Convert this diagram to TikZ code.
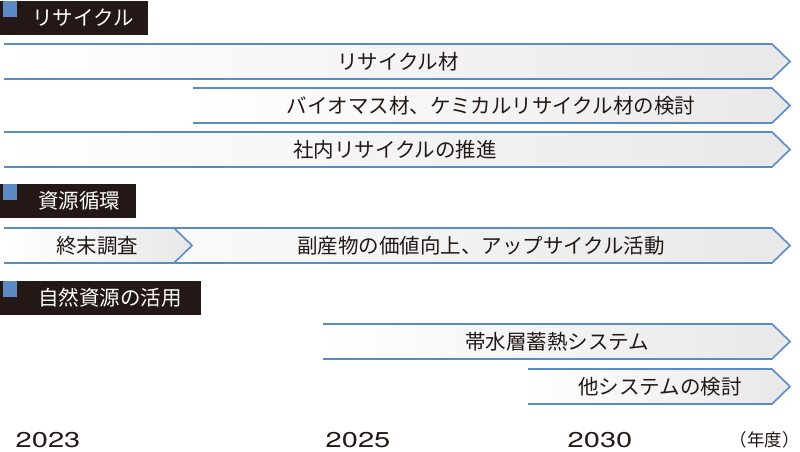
\documentclass[tikz,border=0pt]{standalone}
\usepackage{fontspec}
\setmainfont{Noto Sans CJK JP}
\newfontfamily\yearfont[FakeStretch=1.35]{TeX Gyre Heros}
\definecolor{lineblue}{HTML}{5B8BC6}
\definecolor{inkblack}{HTML}{231815}
\definecolor{barend}{HTML}{E8E8E8}

% bar: left end x, start of the point x, top edge y
\newcommand{\planbar}[3]{%
	\shade[left color=white, right color=barend] (#1,#3) -- (#2,#3) -- (#2+18,#3+17.5) -- (#2,#3+35) -- (#1,#3+35) -- cycle;
	\draw[lineblue, line width=1.6pt, line join=miter] (#1,#3) -- (#2,#3) -- (#2+18,#3+17.5) -- (#2,#3+35) -- (#1,#3+35);
}
% header: right edge x, top edge y
\newcommand{\planhead}[2]{%
	\fill[inkblack] (0,#2) rectangle (#1,#2+34);
	\fill[lineblue] (3,#2) rectangle (17,#2+16);
}

\begin{document}
\begin{tikzpicture}[x=1pt, y=-1pt]
\tikzstyle{bartext}=[inner sep=0pt, text=inkblack, font=\fontsize{20.5}{24}\selectfont]
\tikzstyle{headtext}=[inner sep=0pt, text=white, font=\fontsize{20.5}{24}\selectfont]
\tikzstyle{yeartext}=[inner sep=0pt, anchor=base, text=inkblack, font=\yearfont\fontsize{21.5}{24}\selectfont]
	\useasboundingbox (0,0) rectangle (800,452);

	% リサイクル
	\planhead{148}{1}
	\node[headtext] (recycle) at (83,18) {リサイクル};
	\planbar{4}{772}{44}
	\node[bartext] (material) at (398,61.5) {リサイクル材};
	\planbar{193}{772}{88}
	\node[bartext] (chemical) at (491,105.5) {バイオマス材、ケミカルリサイクル材の検討};
	\planbar{4}{772}{132}
	\node[bartext] (inhouse) at (395,149.5) {社内リサイクルの推進};

	% 資源循環
	\planhead{136}{184}
	\node[headtext] (circulation) at (79,201) {資源循環};
	\planbar{4}{772}{228}
	\planbar{4}{174}{228}
	\node[bartext] (survey) at (97,245.5) {終末調査};
	\node[bartext] (upcycle) at (481,245.5) {副産物の価値向上、アップサイクル活動};

	% 自然資源の活用
	\planhead{201}{281}
	\node[headtext] (nature) at (110,297.5) {自然資源の活用};
	\planbar{323}{772}{324}
	\node[bartext] (aquifer) at (557,341.5) {帯水層蓄熱システム};
	\planbar{528}{772}{369}
	\node[bartext] (other) at (660,386.5) {他システムの検討};

	% 年度
	\node[yeartext] (y2023) at (48,447) {2023};
	\node[yeartext] (y2025) at (358,447) {2025};
	\node[yeartext] (y2030) at (600,447) {2030};
	\node[inner sep=0pt, text=inkblack, font=\fontsize{17.5}{21}\selectfont] (unit) at (764.5,440) {（年度）};
\end{tikzpicture}
\end{document}
